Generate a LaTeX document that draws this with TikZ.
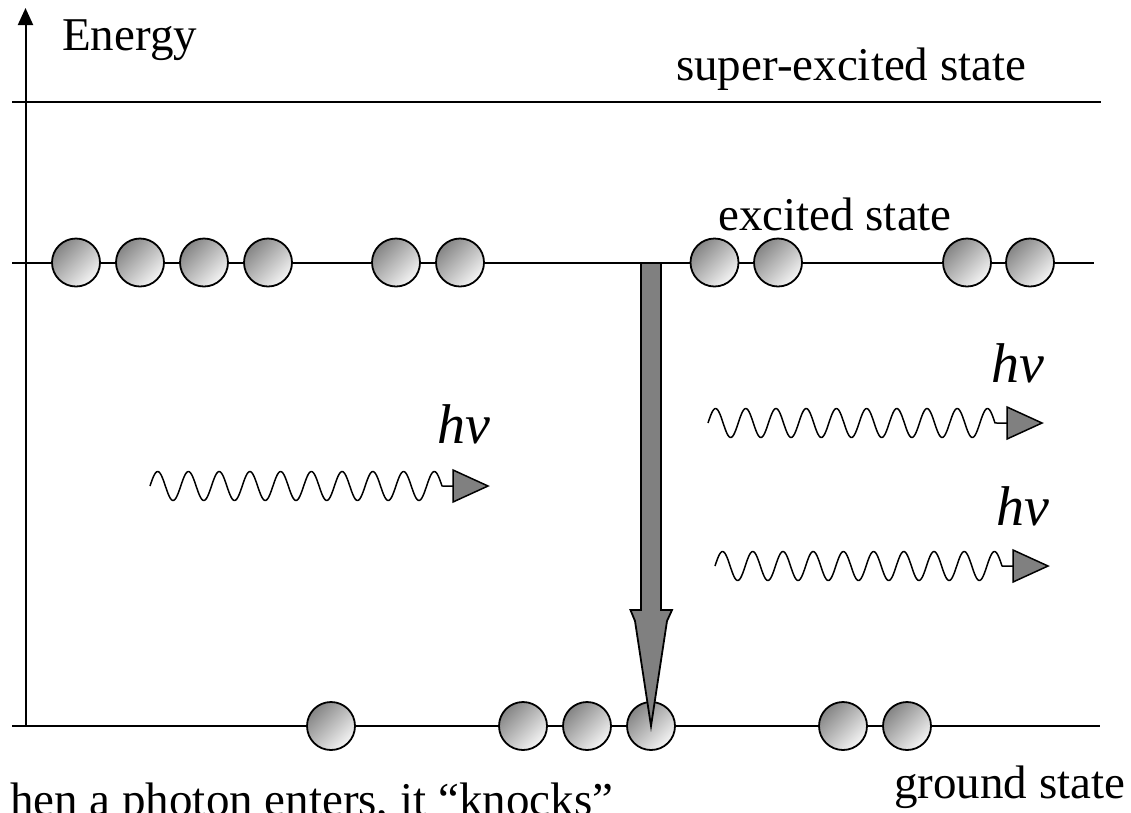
\documentclass[tikz,border=0pt]{standalone}
\usepackage{fontspec}
\setmainfont{Liberation Serif}
\usetikzlibrary{arrows.meta}
\tikzset{
  level/.style={line width=2pt},
  atom/.style={circle, draw, line width=1.8pt, minimum size=48pt, inner sep=0pt,
    top color=black!48, bottom color=black!4, shading angle=45},
  label/.style={inner sep=0pt, font=\fontsize{47}{50}\selectfont},
  hvlabel/.style={inner sep=0pt, font=\fontsize{56}{60}\selectfont\itshape},
  wave/.style={line width=1.5pt, line join=round},
  photonhead/.style={fill=gray, draw=black, line width=1.5pt, line join=miter},
  bigarrow/.style={fill=gray, draw=black, line width=1.8pt, line join=miter}
}
\newcommand{\photonwave}[5]{% #1 name, #2 x0, #3 y, #4 wave length, #5 arrow start
  \coordinate (#1s) at (#2,#3);
  \coordinate (#1a) at (#5,#3);
  \coordinate (#1t) at ({#5+35},#3);
  \draw[wave] plot[domain=0:#4, samples=260] ({#2+\x}, {#3-14.5*sin((\x/#4)*3420)}) -- (#1a);
  \draw[photonhead] ([yshift=16pt]#1a) -- (#1t) -- ([yshift=-16pt]#1a) -- cycle;
}
\begin{document}
\begin{tikzpicture}[x=1pt, y=-1pt]
\clip (0,0) rectangle (1131,812);
\fill[white] (0,0) rectangle (1131,812);

% axis
\coordinate (axbot) at (25.5,726);
\coordinate (axtop) at (25.5,8);
\draw[line width=2pt, -{Triangle[length=17pt,width=15pt]}] (axbot) -- (axtop);

% levels
\coordinate (sL) at (12,101.5); \coordinate (sR) at (1101,101.5);
\coordinate (eL) at (12,262.5); \coordinate (eR) at (1094,262.5);
\coordinate (gL) at (12,726);   \coordinate (gR) at (1100,726);
\draw[level] (sL) -- (sR);
\draw[level] (eL) -- (eR);
\draw[level] (gL) -- (gR);

% labels
\node[label, anchor=base west] (energy) at (62,50) {Energy};
\node[label, anchor=base west] (super) at (676,80) {super-excited state};
\node[label, anchor=base west] (excited) at (718,230) {excited state};
\node[label, anchor=base west] (ground) at (894,798) {ground state};
\node[label, anchor=base west] (caption) at (10,815) {hen a photon enters, it “knocks”};

% excited atoms
\foreach \x [count=\i] in {76,140,204,268,396,460,714.5,778,967,1030}
  \node[atom] (e\i) at (\x,262.5) {};

% ground atoms
\foreach \x [count=\i] in {331,523,587,651,843,907}
  \node[atom] (g\i) at (\x,726) {};

% transition arrow
\coordinate (arrtop) at (651,262.5);
\draw[bigarrow] (641,263) -- (661,263) -- (661,610) -- (672,610) -- (667,621)
  -- (g4.center) -- (635,621) -- (630.5,610) -- (641,610) -- cycle;

% photons
\photonwave{pa}{150}{486}{292}{453}
\photonwave{pb}{708}{423}{287}{1007}
\photonwave{pc}{715}{566}{287}{1013}

\node[hvlabel, anchor=base east] (hv1) at (491,443) {hv};
\node[hvlabel, anchor=base east] (hv2) at (1045,382) {hv};
\node[hvlabel, anchor=base east] (hv3) at (1050,525) {hv};
\end{tikzpicture}
\end{document}
